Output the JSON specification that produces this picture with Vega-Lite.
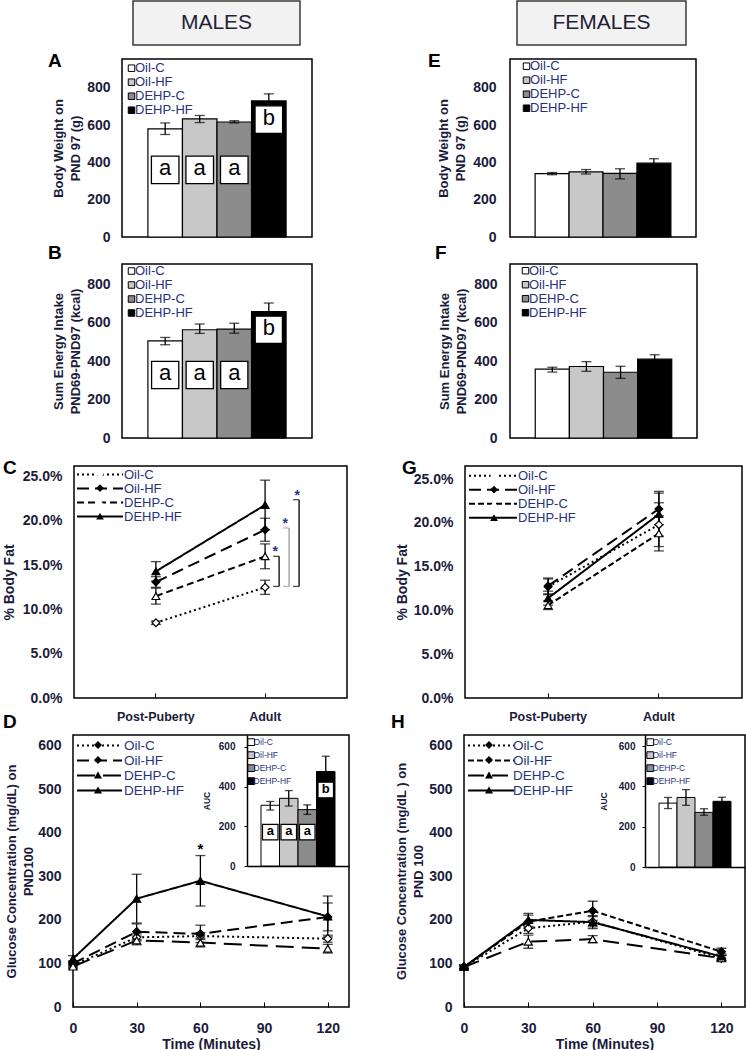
{
"$schema": "https://vega.github.io/schema/vega-lite/v6.json",
"padding": 0,
"background": "white",
"spacing": 0,
"resolve": {"scale": {"fill": "independent", "shape": "independent", "strokeDash": "independent"}, "legend": {"fill": "independent", "shape": "independent", "strokeDash": "independent"}},
"config": {
  "view": {"stroke": null},
  "font": "Liberation Sans",
  "axis": {"grid": false, "domain": false, "ticks": false, "labelFont": "Liberation Sans", "titleFont": "Liberation Sans", "labelFontWeight": "bold", "titleFontWeight": "bold", "labelColor": "#1b1b3c", "titleColor": "#1b1b3c", "labelFontSize": 14, "titleFontSize": 13, "labelFlush": false, "labelOverlap": false, "labelPadding": 12, "tickColor": "black", "titleLineHeight": 17},
  "legend": {"labelFont": "Liberation Sans", "labelColor": "#27327a"},
  "title": {"anchor": "start", "frame": "group", "offset": 0, "baseline": "alphabetic", "fontSize": 19, "fontWeight": "bold", "color": "black", "font": "Liberation Sans"}
},
"datasets": {
  "bwM": [{"group":"Oil-C","mean":580,"lo":550,"hi":612},{"group":"Oil-HF","mean":634,"lo":614,"hi":652},{"group":"DEHP-C","mean":617,"lo":612,"hi":624},{"group":"DEHP-HF","mean":730,"lo":694,"hi":768}],
  "bwF": [{"group":"Oil-C","mean":340,"lo":334,"hi":346},{"group":"Oil-HF","mean":349,"lo":338,"hi":362},{"group":"DEHP-C","mean":341,"lo":312,"hi":366},{"group":"DEHP-HF","mean":396,"lo":374,"hi":420}],
  "eiM": [{"group":"Oil-C","mean":505,"lo":485,"hi":523},{"group":"Oil-HF","mean":563,"lo":544,"hi":593},{"group":"DEHP-C","mean":566,"lo":545,"hi":597},{"group":"DEHP-HF","mean":658,"lo":615,"hi":702}],
  "eiF": [{"group":"Oil-C","mean":358,"lo":343,"hi":368},{"group":"Oil-HF","mean":372,"lo":347,"hi":397},{"group":"DEHP-C","mean":342,"lo":310,"hi":373},{"group":"DEHP-HF","mean":410,"lo":388,"hi":433}],
  "aucM": [{"group":"Oil-C","mean":306,"lo":282,"hi":325},{"group":"Oil-HF","mean":341,"lo":302,"hi":380},{"group":"DEHP-C","mean":284,"lo":260,"hi":308},{"group":"DEHP-HF","mean":476,"lo":400,"hi":553}],
  "aucF": [{"group":"Oil-C","mean":317,"lo":290,"hi":345},{"group":"Oil-HF","mean":345,"lo":306,"hi":384},{"group":"DEHP-C","mean":271,"lo":257,"hi":289},{"group":"DEHP-HF","mean":326,"lo":306,"hi":346}],
  "bwMsig": [{"group":"Oil-C","letter":"a","y":360},{"group":"Oil-HF","letter":"a","y":360},{"group":"DEHP-C","letter":"a","y":360},{"group":"DEHP-HF","letter":"b","y":630}],
  "eiMsig": [{"group":"Oil-C","letter":"a","y":328},{"group":"Oil-HF","letter":"a","y":328},{"group":"DEHP-C","letter":"a","y":328},{"group":"DEHP-HF","letter":"b","y":563}],
  "aucMsig": [{"group":"Oil-C","letter":"a","y":171},{"group":"Oil-HF","letter":"a","y":171},{"group":"DEHP-C","letter":"a","y":171},{"group":"DEHP-HF","letter":"b","y":383}],
  "fatM": [
    {"series":"Oil-C","stage":"Post-Puberty","mean":8.5,"lo":8.3,"hi":8.7},
    {"series":"Oil-C","stage":"Adult","mean":12.5,"lo":11.7,"hi":13.3},
    {"series":"Oil-HF","stage":"Post-Puberty","mean":13.1,"lo":12.5,"hi":13.7},
    {"series":"Oil-HF","stage":"Adult","mean":19.0,"lo":17.7,"hi":20.3},
    {"series":"DEHP-C","stage":"Post-Puberty","mean":11.5,"lo":10.6,"hi":12.4},
    {"series":"DEHP-C","stage":"Adult","mean":16.0,"lo":14.6,"hi":17.4},
    {"series":"DEHP-HF","stage":"Post-Puberty","mean":14.3,"lo":13.2,"hi":15.4},
    {"series":"DEHP-HF","stage":"Adult","mean":21.8,"lo":19.0,"hi":24.6}],
  "fatF": [
    {"series":"Oil-C","stage":"Post-Puberty","mean":12.7,"lo":11.8,"hi":13.6},
    {"series":"Oil-C","stage":"Adult","mean":19.8,"lo":17.3,"hi":22.3},
    {"series":"Oil-HF","stage":"Post-Puberty","mean":12.8,"lo":11.9,"hi":13.7},
    {"series":"Oil-HF","stage":"Adult","mean":21.6,"lo":19.8,"hi":23.4},
    {"series":"DEHP-C","stage":"Post-Puberty","mean":10.6,"lo":10.1,"hi":11.1},
    {"series":"DEHP-C","stage":"Adult","mean":18.8,"lo":16.8,"hi":20.8},
    {"series":"DEHP-HF","stage":"Post-Puberty","mean":11.4,"lo":10.6,"hi":12.2},
    {"series":"DEHP-HF","stage":"Adult","mean":21.0,"lo":18.5,"hi":23.6}],
  "fatMbr": [{"pair":"DEHP-C","stage":"Adult","lo":12.6,"hi":16.0},{"pair":"Oil-HF","stage":"Adult","lo":12.6,"hi":19.2},{"pair":"DEHP-HF","stage":"Adult","lo":12.6,"hi":22.4}],
  "gluM": [
    {"series":"Oil-C","t":0,"mean":96,"lo":91,"hi":101},{"series":"Oil-C","t":30,"mean":160,"lo":152,"hi":168},{"series":"Oil-C","t":60,"mean":163,"lo":155,"hi":171},{"series":"Oil-C","t":120,"mean":157,"lo":149,"hi":165},
    {"series":"Oil-HF","t":0,"mean":100,"lo":94,"hi":106},{"series":"Oil-HF","t":30,"mean":173,"lo":155,"hi":191},{"series":"Oil-HF","t":60,"mean":168,"lo":148,"hi":188},{"series":"Oil-HF","t":120,"mean":207,"lo":175,"hi":239},
    {"series":"DEHP-C","t":0,"mean":93,"lo":88,"hi":98},{"series":"DEHP-C","t":30,"mean":153,"lo":143,"hi":163},{"series":"DEHP-C","t":60,"mean":148,"lo":138,"hi":158},{"series":"DEHP-C","t":120,"mean":134,"lo":124,"hi":144},
    {"series":"DEHP-HF","t":0,"mean":111,"lo":104,"hi":118},{"series":"DEHP-HF","t":30,"mean":249,"lo":193,"hi":305},{"series":"DEHP-HF","t":60,"mean":290,"lo":232,"hi":348},{"series":"DEHP-HF","t":120,"mean":208,"lo":161,"hi":255}],
  "gluF": [
    {"series":"Oil-C","t":0,"mean":92,"lo":88,"hi":96},{"series":"Oil-C","t":30,"mean":181,"lo":169,"hi":193},{"series":"Oil-C","t":60,"mean":196,"lo":184,"hi":208},{"series":"Oil-C","t":120,"mean":112,"lo":106,"hi":118},
    {"series":"Oil-HF","t":0,"mean":92,"lo":88,"hi":96},{"series":"Oil-HF","t":30,"mean":196,"lo":181,"hi":211},{"series":"Oil-HF","t":60,"mean":221,"lo":199,"hi":243},{"series":"Oil-HF","t":120,"mean":127,"lo":119,"hi":135},
    {"series":"DEHP-C","t":0,"mean":92,"lo":88,"hi":96},{"series":"DEHP-C","t":30,"mean":150,"lo":135,"hi":165},{"series":"DEHP-C","t":60,"mean":156,"lo":148,"hi":164},{"series":"DEHP-C","t":120,"mean":112,"lo":106,"hi":118},
    {"series":"DEHP-HF","t":0,"mean":92,"lo":88,"hi":96},{"series":"DEHP-HF","t":30,"mean":200,"lo":185,"hi":215},{"series":"DEHP-HF","t":60,"mean":195,"lo":180,"hi":210},{"series":"DEHP-HF","t":120,"mean":116,"lo":110,"hi":122}]
},
"vconcat": [
 {"hconcat": [
  {"width": 133, "height": 44, "data": {"values": [{}]}, "mark": {"type": "text", "text": ""}},
  {"width": 167, "height": 44, "view": {"fill": "#f2f2f2", "stroke": "#3a3a3a", "strokeWidth": 1.5}, "data": {"values": [{}]}, "mark": {"type": "text", "text": "MALES", "fontSize": 21, "font": "Liberation Sans", "color": "#1f2235"}},
  {"width": 217, "height": 44, "data": {"values": [{}]}, "mark": {"type": "text", "text": ""}},
  {"width": 169, "height": 44, "view": {"fill": "#f2f2f2", "stroke": "#3a3a3a", "strokeWidth": 1.5}, "data": {"values": [{}]}, "mark": {"type": "text", "text": "FEMALES", "fontSize": 21, "font": "Liberation Sans", "color": "#1f2235"}}
 ], "spacing": 0, "bounds": "flush"},
 {"width": 1, "height": 5, "data": {"values": []}, "mark": "point"},
 {"hconcat": [
  {"width": 122, "height": 178, "data": {"values": [{}]}, "mark": {"type": "text", "text": ""},
   "title": {"text": "B", "orient": "bottom", "baseline": "bottom", "dx": 48, "dy": 22}},
  {"width": 190, "height": 178, "view": {"stroke": "black", "strokeWidth": 1.5},
   "title": {"text": "A", "dx": -74, "dy": 16},
   "encoding": {"x": {"field": "group", "type": "nominal", "scale": {"domain": ["Oil-C","Oil-HF","DEHP-C","DEHP-HF"], "paddingInner": 0, "paddingOuter": 0.75}, "axis": null}},
   "layer": [
    {"data": {"name": "bwM"}, "mark": {"type": "bar", "stroke": "black", "strokeWidth": 1.2},
     "encoding": {"y": {"field": "mean", "type": "quantitative", "scale": {"domain": [0, 955], "nice": false}, "axis": {"values": [0,200,400,600,800], "title": ["Body Weight on", "PND 97 (g)"], "titlePadding": 4}},
      "fill": {"field": "group", "type": "nominal", "scale": {"domain": ["Oil-C","Oil-HF","DEHP-C","DEHP-HF"], "range": ["#ffffff","#c8c8c8","#8c8c8c","#000000"]},
        "legend": {"orient": "none", "legendX": 3, "legendY": 2.5, "title": null, "symbolType": "square", "symbolSize": 42, "symbolStrokeColor": "black", "symbolStrokeWidth": 1, "clipHeight": 13.4, "rowPadding": 0, "padding": 0, "labelOffset": -3, "labelFontSize": 13}}}},
    {"data": {"name": "bwM"}, "mark": {"type": "rule", "color": "black", "strokeWidth": 1.3}, "encoding": {"y": {"field": "lo", "type": "quantitative"}, "y2": {"field": "hi"}}},
    {"data": {"name": "bwM"}, "mark": {"type": "tick", "orient": "horizontal", "color": "black", "size": 10, "thickness": 1.3}, "encoding": {"y": {"field": "lo", "type": "quantitative"}}},
    {"data": {"name": "bwM"}, "mark": {"type": "tick", "orient": "horizontal", "color": "black", "size": 10, "thickness": 1.3}, "encoding": {"y": {"field": "hi", "type": "quantitative"}}},
    {"data": {"name": "bwMsig"}, "mark": {"type": "point", "shape": "square", "size": 760, "filled": true, "fill": "white", "stroke": "black", "strokeWidth": 1.3, "opacity": 1}, "encoding": {"y": {"field": "y", "type": "quantitative"}}},
    {"data": {"name": "bwMsig"}, "mark": {"type": "text", "fontSize": 22, "color": "black", "baseline": "middle", "dy": -2}, "encoding": {"y": {"field": "y", "type": "quantitative"}, "text": {"field": "letter"}}}
   ]},
  {"width": 198, "height": 178, "data": {"values": [{}]}, "mark": {"type": "text", "text": ""},
   "title": {"text": "F", "orient": "bottom", "baseline": "bottom", "dx": 123, "dy": 22}},
  {"width": 186, "height": 178, "view": {"stroke": "black", "strokeWidth": 1.5},
   "title": {"text": "E", "dx": -82, "dy": 16},
   "encoding": {"x": {"field": "group", "type": "nominal", "scale": {"domain": ["Oil-C","Oil-HF","DEHP-C","DEHP-HF"], "paddingInner": 0, "paddingOuter": 0.74}, "axis": null}},
   "layer": [
    {"data": {"name": "bwF"}, "mark": {"type": "bar", "stroke": "black", "strokeWidth": 1.2},
     "encoding": {"y": {"field": "mean", "type": "quantitative", "scale": {"domain": [0, 955], "nice": false}, "axis": {"values": [0,200,400,600,800], "title": ["Body Weight on", "PND 97 (g)"], "titlePadding": 5, "labelPadding": 14}},
      "fill": {"field": "group", "type": "nominal", "scale": {"domain": ["Oil-C","Oil-HF","DEHP-C","DEHP-HF"], "range": ["#ffffff","#c8c8c8","#8c8c8c","#000000"]},
        "legend": {"orient": "none", "legendX": 10, "legendY": 0.5, "title": null, "symbolType": "square", "symbolSize": 42, "symbolStrokeColor": "black", "symbolStrokeWidth": 1, "clipHeight": 13.4, "rowPadding": 0, "padding": 0, "labelOffset": -3, "labelFontSize": 13}}}},
    {"data": {"name": "bwF"}, "mark": {"type": "rule", "color": "black", "strokeWidth": 1.3}, "encoding": {"y": {"field": "lo", "type": "quantitative"}, "y2": {"field": "hi"}}},
    {"data": {"name": "bwF"}, "mark": {"type": "tick", "orient": "horizontal", "color": "black", "size": 10, "thickness": 1.3}, "encoding": {"y": {"field": "lo", "type": "quantitative"}}},
    {"data": {"name": "bwF"}, "mark": {"type": "tick", "orient": "horizontal", "color": "black", "size": 10, "thickness": 1.3}, "encoding": {"y": {"field": "hi", "type": "quantitative"}}}
   ]}
 ], "spacing": 0, "bounds": "flush", "resolve": {"scale": {"fill": "independent"}, "legend": {"fill": "independent"}}},
 {"hconcat": [
  {"width": 122, "height": 174, "data": {"values": [{}]}, "mark": {"type": "text", "text": ""}},
  {"width": 190, "height": 174, "view": {"stroke": "black", "strokeWidth": 1.5},
   "encoding": {"x": {"field": "group", "type": "nominal", "scale": {"domain": ["Oil-C","Oil-HF","DEHP-C","DEHP-HF"], "paddingInner": 0, "paddingOuter": 0.75}, "axis": null}},
   "layer": [
    {"data": {"name": "eiM"}, "mark": {"type": "bar", "stroke": "black", "strokeWidth": 1.2},
     "encoding": {"y": {"field": "mean", "type": "quantitative", "scale": {"domain": [0, 905], "nice": false}, "axis": {"values": [0,200,400,600,800], "title": ["Sum Energy Intake", "PND69-PND97 (kcal)"], "titlePadding": 4}},
      "fill": {"field": "group", "type": "nominal", "scale": {"domain": ["Oil-C","Oil-HF","DEHP-C","DEHP-HF"], "range": ["#ffffff","#c8c8c8","#8c8c8c","#000000"]},
        "legend": {"orient": "none", "legendX": 3, "legendY": 0.5, "title": null, "symbolType": "square", "symbolSize": 42, "symbolStrokeColor": "black", "symbolStrokeWidth": 1, "clipHeight": 13, "rowPadding": 0, "padding": 0, "labelOffset": -3, "labelFontSize": 13}}}},
    {"data": {"name": "eiM"}, "mark": {"type": "rule", "color": "black", "strokeWidth": 1.3}, "encoding": {"y": {"field": "lo", "type": "quantitative"}, "y2": {"field": "hi"}}},
    {"data": {"name": "eiM"}, "mark": {"type": "tick", "orient": "horizontal", "color": "black", "size": 10, "thickness": 1.3}, "encoding": {"y": {"field": "lo", "type": "quantitative"}}},
    {"data": {"name": "eiM"}, "mark": {"type": "tick", "orient": "horizontal", "color": "black", "size": 10, "thickness": 1.3}, "encoding": {"y": {"field": "hi", "type": "quantitative"}}},
    {"data": {"name": "eiMsig"}, "mark": {"type": "point", "shape": "square", "size": 740, "filled": true, "fill": "white", "stroke": "black", "strokeWidth": 1.3, "opacity": 1}, "encoding": {"y": {"field": "y", "type": "quantitative"}}},
    {"data": {"name": "eiMsig"}, "mark": {"type": "text", "fontSize": 22, "color": "black", "baseline": "middle", "dy": -2}, "encoding": {"y": {"field": "y", "type": "quantitative"}, "text": {"field": "letter"}}}
   ]},
  {"width": 198, "height": 174, "data": {"values": [{}]}, "mark": {"type": "text", "text": ""}},
  {"width": 187, "height": 174, "view": {"stroke": "black", "strokeWidth": 1.5},
   "encoding": {"x": {"field": "group", "type": "nominal", "scale": {"domain": ["Oil-C","Oil-HF","DEHP-C","DEHP-HF"], "paddingInner": 0, "paddingOuter": 0.74}, "axis": null}},
   "layer": [
    {"data": {"name": "eiF"}, "mark": {"type": "bar", "stroke": "black", "strokeWidth": 1.2},
     "encoding": {"y": {"field": "mean", "type": "quantitative", "scale": {"domain": [0, 905], "nice": false}, "axis": {"values": [0,200,400,600,800], "title": ["Sum Energy Intake", "PND69-PND97 (kcal)"], "titlePadding": 5, "labelPadding": 13}},
      "fill": {"field": "group", "type": "nominal", "scale": {"domain": ["Oil-C","Oil-HF","DEHP-C","DEHP-HF"], "range": ["#ffffff","#c8c8c8","#8c8c8c","#000000"]},
        "legend": {"orient": "none", "legendX": 9, "legendY": 0, "title": null, "symbolType": "square", "symbolSize": 42, "symbolStrokeColor": "black", "symbolStrokeWidth": 1, "clipHeight": 13.4, "rowPadding": 0, "padding": 0, "labelOffset": -3, "labelFontSize": 13}}}},
    {"data": {"name": "eiF"}, "mark": {"type": "rule", "color": "black", "strokeWidth": 1.3}, "encoding": {"y": {"field": "lo", "type": "quantitative"}, "y2": {"field": "hi"}}},
    {"data": {"name": "eiF"}, "mark": {"type": "tick", "orient": "horizontal", "color": "black", "size": 10, "thickness": 1.3}, "encoding": {"y": {"field": "lo", "type": "quantitative"}}},
    {"data": {"name": "eiF"}, "mark": {"type": "tick", "orient": "horizontal", "color": "black", "size": 10, "thickness": 1.3}, "encoding": {"y": {"field": "hi", "type": "quantitative"}}}
   ]}
 ], "spacing": 0, "bounds": "flush", "resolve": {"scale": {"fill": "independent"}, "legend": {"fill": "independent"}}},
 {"width": 1, "height": 12, "data": {"values": []}, "mark": "point"},
 {"hconcat": [
  {"width": 74, "height": 232, "data": {"values": [{}]}, "mark": {"type": "text", "text": ""},
   "title": {"text": "D", "orient": "bottom", "baseline": "bottom", "dx": 3, "dy": 30}},
  {"width": 273, "height": 232, "view": {"stroke": "black", "strokeWidth": 1.5},
   "title": {"text": "C", "dx": -71, "dy": 16},
   "data": {"name": "fatM"},
   "encoding": {"x": {"field": "stage", "type": "ordinal", "scale": {"domain": ["Post-Puberty", "Adult"], "padding": 0.5}, "axis": {"title": null, "labelAngle": 0, "ticks": true, "tickSize": -5, "labelPadding": 17, "labelFontSize": 12.5}}},
   "layer": [
    {"mark": {"type": "line", "color": "black", "strokeWidth": 2},
     "encoding": {"y": {"field": "mean", "type": "quantitative", "scale": {"domain": [0, 26.2], "nice": false}, "axis": {"values": [0,5,10,15,20,25], "labelExpr": "format(datum.value, '.1f') + '%'", "title": "% Body Fat", "titleFontSize": 14, "titlePadding": 6}},
      "strokeDash": {"field": "series", "type": "nominal", "scale": {"domain": ["Oil-C","Oil-HF","DEHP-C","DEHP-HF"], "range": [[2,3],[12,6],[7,4],[1,0]]},
        "legend": {"orient": "top-left", "offset": 1.5, "title": null, "symbolType": "stroke", "symbolSize": 2116, "symbolStrokeWidth": 2, "symbolStrokeColor": "black", "clipHeight": 13.2, "rowPadding": 0, "padding": 0, "labelOffset": 0, "labelFontSize": 13}}}},
    {"mark": {"type": "rule", "color": "black", "strokeWidth": 1.3}, "encoding": {"y": {"field": "lo", "type": "quantitative"}, "y2": {"field": "hi"}}},
    {"mark": {"type": "tick", "orient": "horizontal", "color": "black", "size": 10, "thickness": 1.3}, "encoding": {"y": {"field": "lo", "type": "quantitative"}}},
    {"mark": {"type": "tick", "orient": "horizontal", "color": "black", "size": 10, "thickness": 1.3}, "encoding": {"y": {"field": "hi", "type": "quantitative"}}},
    {"mark": {"type": "point", "filled": true, "opacity": 1, "size": 60, "stroke": "black", "strokeWidth": 1.2},
     "encoding": {"y": {"field": "mean", "type": "quantitative"},
      "shape": {"field": "series", "type": "nominal", "scale": {"domain": ["Oil-C","Oil-HF","DEHP-C","DEHP-HF"], "range": ["diamond","diamond","triangle-up","triangle-up"]},
        "legend": {"orient": "none", "legendX": 21, "legendY": 1.5, "title": null, "symbolSize": 60, "symbolStrokeColor": "black", "symbolStrokeWidth": 1.2, "clipHeight": 13.2, "rowPadding": 0, "padding": 0, "labelExpr": "''",
          "encode": {"symbols": {"fill": {"value": {"expr": "datum.value == 'Oil-HF' || datum.value == 'DEHP-HF' ? 'black' : 'white'"}}, "stroke": {"value": "black"}, "opacity": {"value": 1}}}}},
      "fill": {"field": "series", "type": "nominal", "scale": {"domain": ["Oil-C","Oil-HF","DEHP-C","DEHP-HF"], "range": ["white","black","white","black"]}, "legend": null}}},
    {"data": {"name": "fatMbr"}, "transform": [{"filter": "datum.pair == 'DEHP-C'"}], "mark": {"type": "rule", "color": "black", "strokeWidth": 1.3, "xOffset": 14}, "encoding": {"y": {"field": "lo", "type": "quantitative"}, "y2": {"field": "hi"}}},
    {"data": {"name": "fatMbr"}, "transform": [{"filter": "datum.pair == 'DEHP-C'"}], "mark": {"type": "tick", "orient": "horizontal", "color": "black", "size": 6, "thickness": 1.3, "xOffset": 11}, "encoding": {"y": {"field": "lo", "type": "quantitative"}}},
    {"data": {"name": "fatMbr"}, "transform": [{"filter": "datum.pair == 'DEHP-C'"}], "mark": {"type": "tick", "orient": "horizontal", "color": "black", "size": 6, "thickness": 1.3, "xOffset": 11}, "encoding": {"y": {"field": "hi", "type": "quantitative"}}},
    {"data": {"name": "fatMbr"}, "transform": [{"filter": "datum.pair == 'DEHP-C'"}], "mark": {"type": "text", "text": "*", "fontSize": 14, "fontWeight": "bold", "color": "#27348b", "baseline": "alphabetic", "xOffset": 10}, "encoding": {"y": {"field": "hi", "type": "quantitative"}}},
    {"data": {"name": "fatMbr"}, "transform": [{"filter": "datum.pair == 'Oil-HF'"}], "mark": {"type": "rule", "color": "#9a9a9a", "strokeWidth": 1.3, "xOffset": 24}, "encoding": {"y": {"field": "lo", "type": "quantitative"}, "y2": {"field": "hi"}}},
    {"data": {"name": "fatMbr"}, "transform": [{"filter": "datum.pair == 'Oil-HF'"}], "mark": {"type": "tick", "orient": "horizontal", "color": "#9a9a9a", "size": 6, "thickness": 1.3, "xOffset": 21}, "encoding": {"y": {"field": "lo", "type": "quantitative"}}},
    {"data": {"name": "fatMbr"}, "transform": [{"filter": "datum.pair == 'Oil-HF'"}], "mark": {"type": "tick", "orient": "horizontal", "color": "#9a9a9a", "size": 6, "thickness": 1.3, "xOffset": 21}, "encoding": {"y": {"field": "hi", "type": "quantitative"}}},
    {"data": {"name": "fatMbr"}, "transform": [{"filter": "datum.pair == 'Oil-HF'"}], "mark": {"type": "text", "text": "*", "fontSize": 14, "fontWeight": "bold", "color": "#27348b", "baseline": "alphabetic", "xOffset": 20}, "encoding": {"y": {"field": "hi", "type": "quantitative"}}},
    {"data": {"name": "fatMbr"}, "transform": [{"filter": "datum.pair == 'DEHP-HF'"}], "mark": {"type": "rule", "color": "black", "strokeWidth": 1.3, "xOffset": 34}, "encoding": {"y": {"field": "lo", "type": "quantitative"}, "y2": {"field": "hi"}}},
    {"data": {"name": "fatMbr"}, "transform": [{"filter": "datum.pair == 'DEHP-HF'"}], "mark": {"type": "tick", "orient": "horizontal", "color": "black", "size": 6, "thickness": 1.3, "xOffset": 31}, "encoding": {"y": {"field": "lo", "type": "quantitative"}}},
    {"data": {"name": "fatMbr"}, "transform": [{"filter": "datum.pair == 'DEHP-HF'"}], "mark": {"type": "tick", "orient": "horizontal", "color": "black", "size": 6, "thickness": 1.3, "xOffset": 31}, "encoding": {"y": {"field": "hi", "type": "quantitative"}}},
    {"data": {"name": "fatMbr"}, "transform": [{"filter": "datum.pair == 'DEHP-HF'"}], "mark": {"type": "text", "text": "*", "fontSize": 14, "fontWeight": "bold", "color": "#27348b", "baseline": "alphabetic", "xOffset": 32}, "encoding": {"y": {"field": "hi", "type": "quantitative"}}}
   ]},
  {"width": 118, "height": 232, "data": {"values": [{}]}, "mark": {"type": "text", "text": ""},
   "title": {"text": "H", "orient": "bottom", "baseline": "bottom", "dx": 44, "dy": 30}},
  {"width": 277, "height": 232, "view": {"stroke": "black", "strokeWidth": 1.5},
   "title": {"text": "G", "dx": -63, "dy": 16},
   "data": {"name": "fatF"},
   "encoding": {"x": {"field": "stage", "type": "ordinal", "scale": {"domain": ["Post-Puberty", "Adult"], "padding": 0.5}, "axis": {"title": null, "labelAngle": 0, "ticks": true, "tickSize": -5, "labelPadding": 17, "labelFontSize": 12.5}}},
   "layer": [
    {"mark": {"type": "line", "color": "black", "strokeWidth": 2},
     "encoding": {"y": {"field": "mean", "type": "quantitative", "scale": {"domain": [0, 26.5], "nice": false}, "axis": {"values": [0,5,10,15,20,25], "labelExpr": "format(datum.value, '.1f') + '%'", "title": "% Body Fat", "titleFontSize": 14, "titlePadding": 4}},
      "strokeDash": {"field": "series", "type": "nominal", "scale": {"domain": ["Oil-C","Oil-HF","DEHP-C","DEHP-HF"], "range": [[2,3],[12,6],[6,3],[1,0]]},
        "legend": {"orient": "top-left", "offset": 3, "title": null, "symbolType": "stroke", "symbolSize": 2304, "symbolStrokeWidth": 2, "symbolStrokeColor": "black", "clipHeight": 13.4, "rowPadding": 0, "padding": 0, "labelOffset": 0, "labelFontSize": 13}}}},
    {"mark": {"type": "rule", "color": "black", "strokeWidth": 1.3}, "encoding": {"y": {"field": "lo", "type": "quantitative"}, "y2": {"field": "hi"}}},
    {"mark": {"type": "tick", "orient": "horizontal", "color": "black", "size": 10, "thickness": 1.3}, "encoding": {"y": {"field": "lo", "type": "quantitative"}}},
    {"mark": {"type": "tick", "orient": "horizontal", "color": "black", "size": 10, "thickness": 1.3}, "encoding": {"y": {"field": "hi", "type": "quantitative"}}},
    {"mark": {"type": "point", "filled": true, "opacity": 1, "size": 60, "stroke": "black", "strokeWidth": 1.2},
     "encoding": {"y": {"field": "mean", "type": "quantitative"},
      "shape": {"field": "series", "type": "nominal", "scale": {"domain": ["Oil-C","Oil-HF","DEHP-C","DEHP-HF"], "range": ["diamond","diamond","triangle-up","triangle-up"]},
        "legend": {"orient": "none", "legendX": 24, "legendY": 3, "title": null, "symbolSize": 60, "symbolStrokeColor": "black", "symbolStrokeWidth": 1.2, "clipHeight": 13.4, "rowPadding": 0, "padding": 0, "labelExpr": "''",
          "encode": {"symbols": {"fill": {"value": {"expr": "datum.value == 'Oil-HF' || datum.value == 'DEHP-HF' ? 'black' : 'white'"}}, "stroke": {"value": "black"}, "opacity": {"value": 1}}}}},
      "fill": {"field": "series", "type": "nominal", "scale": {"domain": ["Oil-C","Oil-HF","DEHP-C","DEHP-HF"], "range": ["white","black","white","black"]}, "legend": null}}}
   ]}
 ], "spacing": 0, "bounds": "flush", "resolve": {"scale": {"fill": "independent", "shape": "independent", "strokeDash": "independent"}, "legend": {"fill": "independent", "shape": "independent", "strokeDash": "independent"}}},
 {"width": 1, "height": 2, "data": {"values": []}, "mark": "point"},
 {"hconcat": [
  {"width": 73, "height": 272, "data": {"values": [{}]}, "mark": {"type": "text", "text": ""}},
  {"width": 276, "height": 272, "view": {"stroke": "black", "strokeWidth": 1.5},
   "resolve": {"scale": {"x": "independent", "y": "independent", "fill": "independent"}, "axis": {"x": "independent", "y": "independent"}, "legend": {"fill": "independent"}},
   "layer": [
    {"data": {"name": "gluM"},
     "encoding": {"x": {"field": "t", "type": "quantitative", "scale": {"domain": [0, 130], "nice": false}, "axis": {"orient": "bottom", "values": [0,30,60,90,120], "title": "Time (Minutes)", "titleFontSize": 14, "ticks": true, "tickSize": -5, "labelPadding": 19, "titlePadding": 2}}},
     "layer": [
      {"mark": {"type": "line", "color": "black", "strokeWidth": 2},
       "encoding": {"y": {"field": "mean", "type": "quantitative", "scale": {"domain": [0, 625], "nice": false}, "axis": {"orient": "left", "values": [0,100,200,300,400,500,600], "title": ["Glucose Concentration (mg/dL) on", "PND100"], "titlePadding": 2}},
        "strokeDash": {"field": "series", "type": "nominal", "scale": {"domain": ["Oil-C","Oil-HF","DEHP-C","DEHP-HF"], "range": [[2,3],[12,6],[18,8],[1,0]]},
          "legend": {"orient": "top-left", "offset": 2.5, "title": null, "symbolType": "stroke", "symbolSize": 2025, "symbolStrokeWidth": 2, "symbolStrokeColor": "black", "clipHeight": 15, "rowPadding": 0, "padding": 0, "labelOffset": 1, "labelFontSize": 13.5}}}},
      {"mark": {"type": "rule", "color": "black", "strokeWidth": 1.3}, "encoding": {"y": {"field": "lo", "type": "quantitative"}, "y2": {"field": "hi"}}},
      {"mark": {"type": "tick", "orient": "horizontal", "color": "black", "size": 10, "thickness": 1.3}, "encoding": {"y": {"field": "lo", "type": "quantitative"}}},
      {"mark": {"type": "tick", "orient": "horizontal", "color": "black", "size": 10, "thickness": 1.3}, "encoding": {"y": {"field": "hi", "type": "quantitative"}}},
      {"mark": {"type": "point", "filled": true, "opacity": 1, "size": 65, "stroke": "black", "strokeWidth": 1.2},
       "encoding": {"y": {"field": "mean", "type": "quantitative"},
        "shape": {"field": "series", "type": "nominal", "scale": {"domain": ["Oil-C","Oil-HF","DEHP-C","DEHP-HF"], "range": ["diamond","diamond","triangle-up","triangle-up"]},
          "legend": {"orient": "none", "legendX": 20, "legendY": 2.5, "title": null, "symbolSize": 65, "symbolStrokeColor": "black", "symbolStrokeWidth": 1.2, "clipHeight": 15, "rowPadding": 0, "padding": 0, "labelExpr": "''",
            "encode": {"symbols": {"fill": {"value": {"expr": "datum.value == 'Oil-HF' || datum.value == 'DEHP-HF' ? 'black' : 'white'"}}, "stroke": {"value": "black"}, "opacity": {"value": 1}}}}},
        "fill": {"field": "series", "type": "nominal", "scale": {"domain": ["Oil-C","Oil-HF","DEHP-C","DEHP-HF"], "range": ["white","black","white","black"]}, "legend": null}}},
      {"transform": [{"filter": "datum.series == 'DEHP-HF' && datum.t == 60"}], "mark": {"type": "text", "text": "*", "fontSize": 15, "fontWeight": "bold", "color": "black", "baseline": "alphabetic", "dy": -2}, "encoding": {"y": {"field": "hi", "type": "quantitative"}}}
     ]},
    {"data": {"name": "aucM"},
     "encoding": {"x": {"field": "group", "type": "nominal", "scale": {"domain": ["Oil-C","Oil-HF","DEHP-C","DEHP-HF"], "range": [174, 276], "paddingInner": 0, "paddingOuter": 0.757}, "axis": {"orient": "bottom", "offset": -141, "labels": false, "ticks": false, "domain": true, "domainColor": "black", "domainWidth": 1.5, "title": null}}},
     "layer": [
      {"mark": {"type": "bar", "stroke": "black", "strokeWidth": 1},
       "encoding": {"y": {"field": "mean", "type": "quantitative", "scale": {"domain": [0, 660], "range": [131, 0], "nice": false}, "axis": {"orient": "left", "offset": -174, "values": [0,200,400,600], "title": "AUC", "titleFontSize": 8.5, "titlePadding": 7, "domain": true, "domainColor": "black", "domainWidth": 1.5, "ticks": true, "tickSize": 3, "labelPadding": 9, "labelFontSize": 10}},
        "fill": {"field": "group", "type": "nominal", "scale": {"domain": ["Oil-C","Oil-HF","DEHP-C","DEHP-HF"], "range": ["#ffffff","#c8c8c8","#8c8c8c","#000000"]},
          "legend": {"orient": "none", "legendX": 174, "legendY": 1, "title": null, "symbolType": "square", "symbolSize": 45, "symbolStrokeColor": "black", "symbolStrokeWidth": 1, "clipHeight": 12.3, "rowPadding": 0, "padding": 0, "labelOffset": -2, "labelFontSize": 8.5}}}},
      {"mark": {"type": "rule", "color": "black", "strokeWidth": 1.3}, "encoding": {"y": {"field": "lo", "type": "quantitative"}, "y2": {"field": "hi"}}},
      {"mark": {"type": "tick", "orient": "horizontal", "color": "black", "size": 8, "thickness": 1.3}, "encoding": {"y": {"field": "lo", "type": "quantitative"}}},
      {"mark": {"type": "tick", "orient": "horizontal", "color": "black", "size": 8, "thickness": 1.3}, "encoding": {"y": {"field": "hi", "type": "quantitative"}}},
      {"data": {"name": "aucMsig"}, "mark": {"type": "point", "shape": "square", "size": 240, "filled": true, "fill": "white", "stroke": "black", "strokeWidth": 1.2, "opacity": 1}, "encoding": {"y": {"field": "y", "type": "quantitative"}}},
      {"data": {"name": "aucMsig"}, "mark": {"type": "text", "fontSize": 13, "fontWeight": "bold", "color": "black", "baseline": "middle", "dy": -1}, "encoding": {"y": {"field": "y", "type": "quantitative"}, "text": {"field": "letter"}}}
     ]}
   ]},
  {"width": 115, "height": 272, "data": {"values": [{}]}, "mark": {"type": "text", "text": ""}},
  {"width": 281, "height": 272, "view": {"stroke": "black", "strokeWidth": 1.5},
   "resolve": {"scale": {"x": "independent", "y": "independent", "fill": "independent"}, "axis": {"x": "independent", "y": "independent"}, "legend": {"fill": "independent"}},
   "layer": [
    {"data": {"name": "gluF"},
     "encoding": {"x": {"field": "t", "type": "quantitative", "scale": {"domain": [0, 131], "nice": false}, "axis": {"orient": "bottom", "values": [0,30,60,90,120], "title": "Time (Minutes)", "titleFontSize": 14, "ticks": true, "tickSize": -5, "labelPadding": 19, "titlePadding": 2}}},
     "layer": [
      {"mark": {"type": "line", "color": "black", "strokeWidth": 2},
       "encoding": {"y": {"field": "mean", "type": "quantitative", "scale": {"domain": [0, 625], "nice": false}, "axis": {"orient": "left", "values": [0,100,200,300,400,500,600], "title": ["Glucose Concentration (mg/dL ) on", "PND 100"], "titlePadding": 3}},
        "strokeDash": {"field": "series", "type": "nominal", "scale": {"domain": ["Oil-C","Oil-HF","DEHP-C","DEHP-HF"], "range": [[2,3],[6,3],[16,8],[1,0]]},
          "legend": {"orient": "top-left", "offset": 2.5, "title": null, "symbolType": "stroke", "symbolSize": 2116, "symbolStrokeWidth": 2, "symbolStrokeColor": "black", "clipHeight": 15, "rowPadding": 0, "padding": 0, "labelOffset": -2, "labelFontSize": 13.5}}}},
      {"mark": {"type": "rule", "color": "black", "strokeWidth": 1.3}, "encoding": {"y": {"field": "lo", "type": "quantitative"}, "y2": {"field": "hi"}}},
      {"mark": {"type": "tick", "orient": "horizontal", "color": "black", "size": 10, "thickness": 1.3}, "encoding": {"y": {"field": "lo", "type": "quantitative"}}},
      {"mark": {"type": "tick", "orient": "horizontal", "color": "black", "size": 10, "thickness": 1.3}, "encoding": {"y": {"field": "hi", "type": "quantitative"}}},
      {"mark": {"type": "point", "filled": true, "opacity": 1, "size": 65, "stroke": "black", "strokeWidth": 1.2},
       "encoding": {"y": {"field": "mean", "type": "quantitative"},
        "shape": {"field": "series", "type": "nominal", "scale": {"domain": ["Oil-C","Oil-HF","DEHP-C","DEHP-HF"], "range": ["diamond","diamond","triangle-up","triangle-up"]},
          "legend": {"orient": "none", "legendX": 20, "legendY": 2.5, "title": null, "symbolSize": 65, "symbolStrokeColor": "black", "symbolStrokeWidth": 1.2, "clipHeight": 15, "rowPadding": 0, "padding": 0, "labelExpr": "''",
            "encode": {"symbols": {"fill": {"value": {"expr": "datum.value == 'Oil-HF' || datum.value == 'DEHP-HF' ? 'black' : 'white'"}}, "stroke": {"value": "black"}, "opacity": {"value": 1}}}}},
        "fill": {"field": "series", "type": "nominal", "scale": {"domain": ["Oil-C","Oil-HF","DEHP-C","DEHP-HF"], "range": ["white","black","white","black"]}, "legend": null}}}
     ]},
    {"data": {"name": "aucF"},
     "encoding": {"x": {"field": "group", "type": "nominal", "scale": {"domain": ["Oil-C","Oil-HF","DEHP-C","DEHP-HF"], "range": [181, 281], "paddingInner": 0, "paddingOuter": 0.78}, "axis": {"orient": "bottom", "offset": -140, "labels": false, "ticks": false, "domain": true, "domainColor": "black", "domainWidth": 1.5, "title": null}}},
     "layer": [
      {"mark": {"type": "bar", "stroke": "black", "strokeWidth": 1},
       "encoding": {"y": {"field": "mean", "type": "quantitative", "scale": {"domain": [0, 655], "range": [132, 0], "nice": false}, "axis": {"orient": "left", "offset": -181, "values": [0,200,400,600], "title": "AUC", "titleFontSize": 8.5, "titlePadding": 10, "domain": true, "domainColor": "black", "domainWidth": 1.5, "ticks": true, "tickSize": 3, "labelPadding": 7, "labelFontSize": 10}},
        "fill": {"field": "group", "type": "nominal", "scale": {"domain": ["Oil-C","Oil-HF","DEHP-C","DEHP-HF"], "range": ["#ffffff","#c8c8c8","#8c8c8c","#000000"]},
          "legend": {"orient": "none", "legendX": 182, "legendY": 1, "title": null, "symbolType": "square", "symbolSize": 45, "symbolStrokeColor": "black", "symbolStrokeWidth": 1, "clipHeight": 12.3, "rowPadding": 0, "padding": 0, "labelOffset": -2, "labelFontSize": 8.5}}}},
      {"mark": {"type": "rule", "color": "black", "strokeWidth": 1.3}, "encoding": {"y": {"field": "lo", "type": "quantitative"}, "y2": {"field": "hi"}}},
      {"mark": {"type": "tick", "orient": "horizontal", "color": "black", "size": 8, "thickness": 1.3}, "encoding": {"y": {"field": "lo", "type": "quantitative"}}},
      {"mark": {"type": "tick", "orient": "horizontal", "color": "black", "size": 8, "thickness": 1.3}, "encoding": {"y": {"field": "hi", "type": "quantitative"}}}
     ]}
   ]}
 ], "spacing": 0, "bounds": "flush", "resolve": {"scale": {"fill": "independent", "shape": "independent", "strokeDash": "independent"}, "legend": {"fill": "independent", "shape": "independent", "strokeDash": "independent"}}}
]
}
